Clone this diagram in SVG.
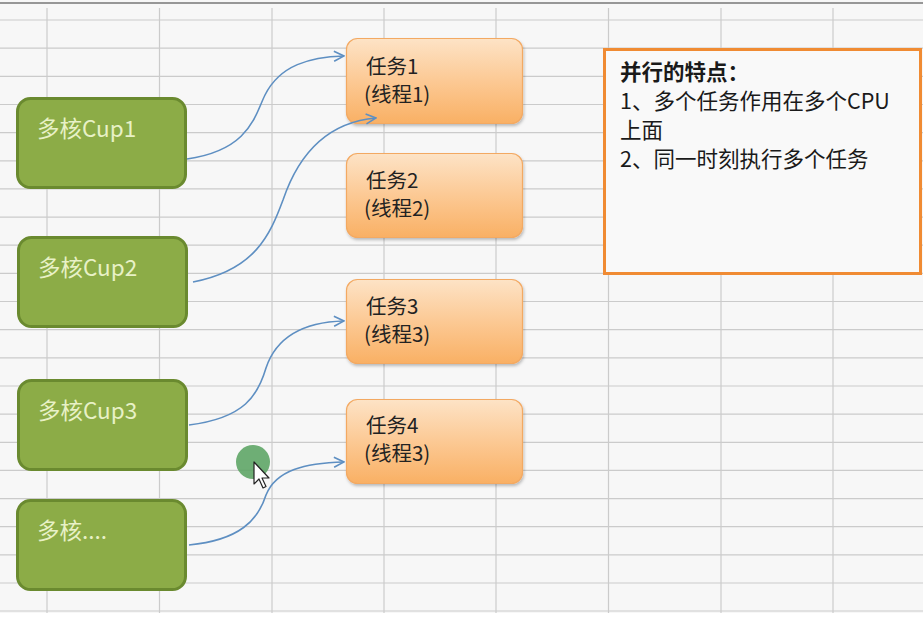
<svg xmlns="http://www.w3.org/2000/svg" width="923" height="620" viewBox="0 0 923 620">
<defs>
<style>
.grid line{stroke:#cbcbcb;stroke-width:1.2}
.core rect{fill:#8cac47;stroke:#6a8a2f;stroke-width:3}
.core text{font-family:"Noto Sans CJK SC","Liberation Sans",sans-serif;font-size:22.5px;fill:#e8f1c6}
.task rect{fill:url(#og);stroke:#f3a962;stroke-width:1.2;filter:url(#sh)}
.task text{font-family:"Noto Sans CJK SC","Liberation Sans",sans-serif;font-size:20.5px;fill:#222}
.note text{font-family:"Noto Sans CJK SC","Liberation Sans",sans-serif;font-size:21.5px;fill:#1a1a1a}
.conn path{fill:none;stroke:#5e8fc2;stroke-width:1.6;marker-end:url(#ah)}
</style>
<linearGradient id="og" x1="0" y1="0" x2="0" y2="1">
<stop offset="0" stop-color="#fde3c6"/>
<stop offset="0.5" stop-color="#fcc994"/>
<stop offset="1" stop-color="#f9b064"/>
</linearGradient>
<filter id="sh" x="-10%" y="-10%" width="125%" height="130%">
<feDropShadow dx="1" dy="2" stdDeviation="1.5" flood-color="#000" flood-opacity="0.25"/>
</filter>
<marker id="ah" viewBox="0 0 12 12" refX="11" refY="6" markerWidth="12" markerHeight="12" markerUnits="userSpaceOnUse" orient="auto">
<path d="M1,1 L11,6 L1,11" fill="none" stroke="#5e8fc2" stroke-width="1.6"/>
</marker>
</defs>
<rect x="0" y="0" width="923" height="620" fill="#f7f7f7"/>
<rect x="0" y="613" width="923" height="7" fill="#ffffff"/>
<g class="grid">
<line x1="47" y1="8" x2="47" y2="613"/>
<line x1="159.5" y1="8" x2="159.5" y2="613"/>
<line x1="272" y1="8" x2="272" y2="613"/>
<line x1="384" y1="8" x2="384" y2="613"/>
<line x1="496" y1="8" x2="496" y2="613"/>
<line x1="608.5" y1="8" x2="608.5" y2="613"/>
<line x1="721" y1="8" x2="721" y2="613"/>
<line x1="833" y1="8" x2="833" y2="613"/>
<line x1="0" y1="20" x2="923" y2="20"/>
<line x1="0" y1="48.2" x2="923" y2="48.2"/>
<line x1="0" y1="76.3" x2="923" y2="76.3"/>
<line x1="0" y1="104.5" x2="923" y2="104.5"/>
<line x1="0" y1="132.6" x2="923" y2="132.6"/>
<line x1="0" y1="160.8" x2="923" y2="160.8"/>
<line x1="0" y1="188.9" x2="923" y2="188.9"/>
<line x1="0" y1="217.1" x2="923" y2="217.1"/>
<line x1="0" y1="245.2" x2="923" y2="245.2"/>
<line x1="0" y1="273.4" x2="923" y2="273.4"/>
<line x1="0" y1="301.5" x2="923" y2="301.5"/>
<line x1="0" y1="329.7" x2="923" y2="329.7"/>
<line x1="0" y1="357.8" x2="923" y2="357.8"/>
<line x1="0" y1="386" x2="923" y2="386"/>
<line x1="0" y1="414.1" x2="923" y2="414.1"/>
<line x1="0" y1="442.3" x2="923" y2="442.3"/>
<line x1="0" y1="470.4" x2="923" y2="470.4"/>
<line x1="0" y1="498.6" x2="923" y2="498.6"/>
<line x1="0" y1="526.7" x2="923" y2="526.7"/>
<line x1="0" y1="554.9" x2="923" y2="554.9"/>
<line x1="0" y1="583" x2="923" y2="583"/>
<line x1="0" y1="611" x2="923" y2="611"/>
</g>
<line x1="0" y1="3" x2="923" y2="3" stroke="#777" stroke-width="1.5"/>

<g id="cpu1" class="core"><rect x="17.5" y="98.5" width="168" height="89" rx="13"/><text x="37" y="137">多核Cup1</text></g>
<g id="cpu2" class="core"><rect x="18.5" y="237.5" width="168" height="89" rx="13"/><text x="38" y="276">多核Cup2</text></g>
<g id="cpu3" class="core"><rect x="18.5" y="380.5" width="168" height="89" rx="13"/><text x="38" y="419">多核Cup3</text></g>
<g id="cpu4" class="core"><rect x="17.5" y="500.5" width="168" height="89" rx="13"/><text x="37" y="539">多核....</text></g>

<g id="task1" class="task"><rect x="346.5" y="38.5" width="176" height="85" rx="11"/><text x="366" y="74">任务1</text><text x="364" y="102">(线程1)</text></g>
<g id="task2" class="task"><rect x="346.5" y="153.5" width="176" height="84" rx="11"/><text x="366" y="188">任务2</text><text x="364" y="216">(线程2)</text></g>
<g id="task3" class="task"><rect x="346.5" y="279.5" width="176" height="84" rx="11"/><text x="366" y="314">任务3</text><text x="364" y="342">(线程3)</text></g>
<g id="task4" class="task"><rect x="346.5" y="399.5" width="176" height="84" rx="11"/><text x="366" y="433">任务4</text><text x="364" y="461">(线程3)</text></g>

<g id="note" class="note">
<rect x="604.5" y="49.5" width="316" height="224" fill="#f9f9f9" stroke="#f08b33" stroke-width="3"/>
<text x="620" y="80" font-weight="bold">并行的特点：</text>
<text x="620" y="109">1、多个任务作用在多个CPU</text>
<text x="620" y="138">上面</text>
<text x="620" y="167">2、同一时刻执行多个任务</text>
</g>

<g id="connectors" class="conn">
<path d="M187,159 C250,150 255,115 265,95 C280,65 310,57 344,56"/>
<path d="M193,282 C255,270 270,235 283,200 C300,150 330,122 376,118"/>
<path d="M189,425 C245,418 258,395 266,368 C277,335 305,322 344,321"/>
<path d="M189,545 C240,540 258,520 266,495 C276,470 305,463 344,462"/>
</g>

<g id="pointer">
<circle cx="253" cy="462" r="17" fill="#5ea566" opacity="0.9"/>
<path d="M254,462 L254,484 L259,479 L263,488 L266,486.5 L262,478 L269,478 Z" fill="#fff" stroke="#222" stroke-width="1.2" stroke-linejoin="round"/>
</g>
</svg>
